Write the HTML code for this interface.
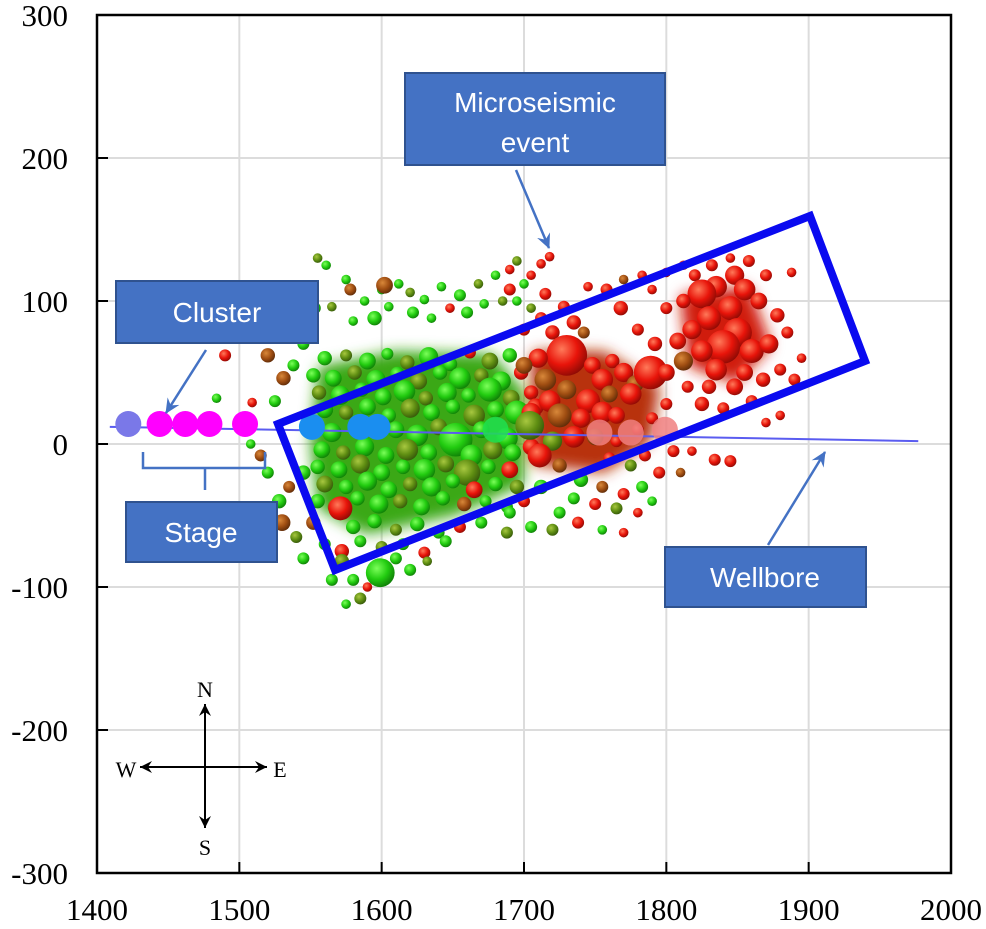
<!DOCTYPE html>
<html><head><meta charset="utf-8"><style>
html,body{margin:0;padding:0;background:#fff;}
svg{display:block;}
.tick{font-family:"Liberation Serif",serif;font-size:31px;fill:#000;}
.ann{font-family:"Liberation Sans","Noto Sans CJK SC",sans-serif;font-size:28px;fill:#fff;}
.cmp{font-family:"Liberation Serif",serif;font-size:22px;fill:#000;}
</style></head><body>
<svg id="chart" width="986" height="929" viewBox="0 0 986 929" xmlns="http://www.w3.org/2000/svg">
<defs>
<radialGradient id="g0" cx="0.38" cy="0.35" r="0.7"><stop offset="0" stop-color="#7cff5a"/><stop offset="0.55" stop-color="#22cc10"/><stop offset="1" stop-color="#0e7a06"/></radialGradient>
<radialGradient id="g1" cx="0.38" cy="0.35" r="0.7"><stop offset="0" stop-color="#a8c840"/><stop offset="0.55" stop-color="#5f8e12"/><stop offset="1" stop-color="#34560a"/></radialGradient>
<radialGradient id="g2" cx="0.38" cy="0.35" r="0.7"><stop offset="0" stop-color="#d8883a"/><stop offset="0.55" stop-color="#a04e12"/><stop offset="1" stop-color="#5c2a08"/></radialGradient>
<radialGradient id="g3" cx="0.38" cy="0.35" r="0.7"><stop offset="0" stop-color="#ff7a5a"/><stop offset="0.55" stop-color="#e8140a"/><stop offset="1" stop-color="#8a0a04"/></radialGradient>
<filter id="blur" x="-20%" y="-20%" width="140%" height="140%"><feGaussianBlur stdDeviation="7"/></filter>
</defs>
<g id="grid"></g>
<g id="blobs" filter="url(#blur)"></g>
<g id="events"></g>
<g id="well"></g>
<g id="axes"></g>
</svg>
<script>
const xTicks=[1400,1500,1600,1700,1800,1900,2000];
const yTicks=[300,200,100,0,-100,-200,-300];
// events: x (E), y (N), magnitude radius, type (0 green,1 olive,2 brown,3 red)
const evX=[1555,1561,1575,1578,1548,1553,1565,1540,1588,1600,1612,1620,1630,1642,1655,1668,1680,1690,1695,1700,1705,1712,1718,1690,1685,1672,1660,1648,1635,1622,1605,1595,1580,1602,
1490,1484,1509,1531,1525,1508,1515,1520,1545,1530,1520,1550,1538,
1560,1575,1590,1604,1618,1633,1648,1662,1676,1690,
1552,1566,1581,1596,1611,1626,1641,1655,1670,1684,1698,
1556,1571,1586,1601,1616,1631,1646,1661,1676,1691,1705,
1560,1575,1590,1605,1620,1635,1650,1665,1680,1695,1708,
1565,1610,1625,1640,1655,1670,1688,1700,
1558,1573,1588,1603,1618,1633,1652,1663,1678,1692,1705,
1555,1570,1585,1600,1615,1630,1645,1660,1675,1690,
1560,1575,1590,1605,1620,1635,1650,1665,1680,1695,
1555,1568,1583,1598,1613,1628,1643,1658,1673,1688,
1552,1571,1580,1595,1610,1625,1640,1655,1670,
1560,1572,1585,1600,1615,1630,1645,
1599,1572,1580,1565,1585,1575,1590,1620,1632,1610,1545,1540,1530,1528,1535,1545,
1700,1712,1720,1705,1695,1715,1728,1735,1742,1730,1710,1700,1715,1748,1755,1762,1770,1778,1789,1775,1760,1745,1730,1718,1705,1725,1740,1755,1765,1735,1720,1704,1750,1765,1780,1790,1800,1711,1725,1760,1775,1785,1795,1805,1740,1755,1770,1783,1765,1750,1735,1725,1780,1790,1810,1818,1712,1700,1690,
1720,1738,1755,1770,1705,1688,
1820,1832,1845,1858,1870,1888,1848,1835,1825,1812,1800,1790,1783,1855,1865,1878,1885,1845,1830,1818,1808,1850,1840,1860,1872,1825,1812,1800,1835,1855,1868,1880,1890,1848,1830,1815,1825,1840,1860,1880,1870,1792,1780,1768,1758,1770,1745,1800,1812,1895,1834,1845];
const evY=[130,125,115,108,105,95,96,90,100,108,112,106,101,110,104,112,118,122,128,112,118,126,131,108,100,98,92,95,88,92,96,88,86,111,
62,32,29,46,30,0,-8,-20,70,75,62,80,55,
60,62,58,63,57,61,56,64,58,62,
48,46,50,45,49,44,50,46,48,44,50,
36,34,38,33,37,32,36,34,38,32,36,
24,22,26,20,25,22,26,20,24,22,26,
8,10,6,12,6,10,4,12,
-4,-6,-2,-8,-4,-6,3,-8,-4,-6,-2,
-16,-18,-14,-20,-16,-18,-14,-20,-16,-18,
-28,-30,-26,-32,-28,-30,-26,-32,-28,-30,
-40,-44,-38,-42,-40,-44,-38,-42,-40,-44,
-55,-45,-58,-54,-60,-56,-62,-58,-55,
-70,-75,-68,-72,-70,-76,-68,
-90,-82,-95,-95,-108,-112,-100,-88,-82,-80,-80,-65,-55,-40,-30,-20,
80,88,78,95,100,105,96,85,78,62,60,55,45,55,45,58,50,42,50,35,35,30,38,30,22,20,18,22,20,5,2,13,5,2,10,18,28,-8,-15,-10,-15,-8,-20,-5,-25,-30,-35,-30,-45,-42,-38,-48,-48,-40,-20,-5,-30,-40,-48,
-60,-55,-60,-62,-58,-62,
118,125,130,128,118,120,118,110,105,100,95,108,118,108,100,90,78,95,88,80,72,78,68,65,70,65,58,50,52,50,45,52,45,40,40,40,28,25,30,20,15,70,80,95,108,115,110,120,125,60,-11,-12];
const evMag=[4,4,4,5,4,5,4,4,4,4,4,4,4,4,5,4,4,4,4,4,4,4,4,5,4,4,5,4,4,5,4,6,4,7,
5,4,4,6,5,4,5,5,5,6,6,5,5,
6,5,7,5,6,8,6,5,7,6,
6,7,6,8,6,7,6,9,6,8,6,
6,8,6,7,9,6,8,6,10,7,6,
7,6,7,6,8,7,6,9,7,10,7,
8,7,9,7,8,7,9,7,
7,6,8,7,9,7,14,9,8,7,7,
6,7,8,7,6,9,7,11,6,7,
7,6,8,7,6,8,6,7,6,6,
6,7,6,8,6,7,6,6,5,5,
6,10,6,6,5,6,5,5,5,
5,6,5,5,5,5,5,
12,6,5,5,5,4,4,5,4,5,5,5,7,6,5,6,
5,5,6,4,4,5,5,6,5,17,8,7,9,7,9,6,8,7,14,9,7,10,8,9,8,10,8,9,7,9,8,12,7,5,5,5,5,10,6,5,5,5,5,5,6,5,5,5,5,5,5,5,4,4,4,4,6,5,5,
5,5,4,4,5,5,
5,5,4,5,5,4,8,9,12,6,5,4,4,9,7,6,5,10,10,8,7,12,14,10,8,9,8,7,9,7,6,5,5,7,6,5,6,5,5,4,4,6,5,6,5,4,4,4,4,4,5,5];
const evType=[1,0,0,2,0,0,1,1,0,0,0,1,0,0,0,1,0,3,1,0,3,3,3,3,1,0,0,3,0,0,0,0,0,2,
3,0,3,2,0,0,2,0,0,0,2,1,0,
0,1,0,0,1,0,0,3,1,0,
0,0,1,0,0,1,0,0,1,0,3,
1,0,0,0,0,1,0,0,0,1,3,
0,1,0,0,1,0,0,1,0,0,3,
0,0,0,1,0,0,0,1,
0,1,0,0,1,0,0,0,1,0,3,
0,0,1,0,0,0,1,1,0,3,
1,0,0,0,1,0,0,3,0,1,
0,2,0,0,1,0,0,2,0,0,
2,3,0,0,1,0,0,3,0,
0,3,0,1,0,3,0,
0,1,0,0,1,0,3,0,1,0,0,1,2,0,2,0,
3,3,3,1,0,3,3,3,2,3,3,2,2,3,3,3,3,2,3,3,2,3,2,3,3,2,3,3,3,3,1,1,2,3,3,3,3,3,2,3,1,3,3,3,0,2,3,0,1,3,0,0,3,0,2,3,0,3,0,
1,3,0,3,0,1,
3,3,3,3,3,3,3,3,3,3,3,3,3,3,3,3,3,3,3,3,3,3,3,3,3,3,2,3,3,3,3,3,3,3,3,3,3,3,3,3,3,3,3,3,3,2,3,3,3,3,3,3];
const stageX=[1422,1444,1462,1479,1504,1551,1585,1597,1680,1753,1775,1799];
const stageY=[14,14,14,14,14,12,12,12,10,8,8,10];
const stageColor=["#7a78e8","#ff00ff","#ff00ff","#ff00ff","#ff00ff","#1a8ef0","#1a8ef0","#1a8ef0","#20e050","#f08080","#f08080","#f08080"];
const wellX=[1409,1977];
const wellY=[12,2];
const greenCloudX=[1560,1610,1675,1695,1695,1650,1590,1560,1555];
const greenCloudY=[50,60,58,35,-25,-45,-58,-42,0];
const redCloudX=[1710,1755,1790,1785,1755,1710];
const redCloudY=[60,60,38,5,-15,-10];
const red2CloudX=[1815,1855,1868,1848,1820];
const red2CloudY=[100,105,70,48,58];

const L=97,R=951,T=15,B=873;
const sx=v=>L+(v-1400)/600*(R-L);
const sy=v=>T+(300-v)/600*(B-T);
const NS="http://www.w3.org/2000/svg";
function mk(tag,attrs,parent,txt){const e=document.createElementNS(NS,tag);for(const k in attrs)e.setAttribute(k,attrs[k]);if(txt!==undefined)e.textContent=txt;parent.appendChild(e);return e;}
const grid=document.getElementById('grid');
xTicks.forEach(v=>{if(v>1400&&v<2000){const l=mk('line',{x1:sx(v),x2:sx(v),y1:T,y2:B,stroke:'#dcdcdc','stroke-width':2},grid);

}});
yTicks.forEach(v=>{if(v<300&&v>-300){const l=mk('line',{x1:L,x2:R,y1:sy(v),y2:sy(v),stroke:'#dcdcdc','stroke-width':2},grid);

}});
const blobs=document.getElementById('blobs');
function poly(xs,ys,fill,name){const p=mk('polygon',{points:xs.map((x,i)=>sx(x)+','+sy(ys[i])).join(' '),fill:fill,'stroke':fill,'stroke-width':14,'stroke-linejoin':'round'},blobs);

}
poly(greenCloudX,greenCloudY,'#3aa818','green-event-cloud');
poly(redCloudX,redCloudY,'#b8300c','red-event-cloud');
poly(red2CloudX,red2CloudY,'#d01a0a','northeast-event-cloud');
const ev=document.getElementById('events');
evX.forEach((x,i)=>{const c=mk('circle',{cx:sx(x),cy:sy(evY[i]),r:evMag[i]*1.2,fill:'url(#g'+evType[i]+')'},ev);

});
const well=document.getElementById('well');
const wl=mk('line',{x1:sx(wellX[0]),y1:sy(wellY[0]),x2:sx(wellX[1]),y2:sy(wellY[1]),stroke:'#5a5cf0','stroke-width':2},well);


stageX.forEach((x,i)=>{const c=mk('circle',{cx:sx(x),cy:sy(stageY[i]),r:13,fill:stageColor[i],opacity:i>=8?0.85:1},well);

});
const ax=document.getElementById('axes');
const frame=mk('rect',{x:L,y:T,width:R-L,height:B-T,fill:'none',stroke:'#000','stroke-width':2.5},ax);


xTicks.forEach(v=>{mk('line',{x1:sx(v),x2:sx(v),y1:B,y2:B-11,stroke:'#000','stroke-width':2},ax);
const t=mk('text',{x:sx(v),y:920,'text-anchor':'middle',class:'tick'},ax,String(v));

});
yTicks.forEach(v=>{mk('line',{x1:L,x2:L+11,y1:sy(v),y2:sy(v),stroke:'#000','stroke-width':2},ax);
const t=mk('text',{x:68,y:sy(v)+11,'text-anchor':'end',class:'tick'},ax,String(v));

});
</script>
<svg style="position:absolute;left:0;top:0" width="986" height="929">
<defs>
<marker id="ah2" markerWidth="16" markerHeight="16" refX="14" refY="8" orient="auto" markerUnits="userSpaceOnUse"><path d="M0,1 L15,8 L0,15 L5,8 Z" fill="#4472c4"/></marker>
<marker id="ak2" markerWidth="14" markerHeight="14" refX="12" refY="7" orient="auto" markerUnits="userSpaceOnUse"><path d="M0,1 L12,7 L0,13 L4,7 Z" fill="#000"/></marker>
</defs>
<polygon points="278,424 810,216 865,361 335,570" fill="none" stroke="#0a0af0" stroke-width="8" stroke-linejoin="miter"/>
<g>
<rect x="405" y="73" width="260" height="92" fill="#4472c4" stroke="#2f528f" stroke-width="2"/>
<text class="ann" x="535" y="112" text-anchor="middle">Microseismic</text>
<text class="ann" x="535" y="152" text-anchor="middle">event</text>
<line x1="516" y1="170" x2="549" y2="248" stroke="#4472c4" stroke-width="2.5" marker-end="url(#ah2)"/>
</g>
<g>
<rect x="116" y="281" width="202" height="62" fill="#4472c4" stroke="#2f528f" stroke-width="2"/>
<text class="ann" x="217" y="322" text-anchor="middle">Cluster</text>
<line x1="206" y1="350" x2="166" y2="413" stroke="#4472c4" stroke-width="2.5" marker-end="url(#ah2)"/>
</g>
<g>
<path d="M143,452 V468 H205 V490 M205,468 H265 V452" fill="none" stroke="#4472c4" stroke-width="2.5"/>
<rect x="126" y="502" width="151" height="60" fill="#4472c4" stroke="#2f528f" stroke-width="2"/>
<text class="ann" x="201" y="542" text-anchor="middle">Stage</text>
</g>
<g>
<rect x="665" y="547" width="201" height="60" fill="#4472c4" stroke="#2f528f" stroke-width="2"/>
<text class="ann" x="765" y="587" text-anchor="middle">Wellbore</text>
<line x1="768" y1="545" x2="825" y2="452" stroke="#4472c4" stroke-width="2.5" marker-end="url(#ah2)"/>
</g>
<g>
<line x1="205" y1="828" x2="205" y2="704" stroke="#000" stroke-width="2" marker-end="url(#ak2)"/>
<line x1="205" y1="706" x2="205" y2="828" stroke="#000" stroke-width="2" marker-end="url(#ak2)"/>
<line x1="265" y1="767" x2="140" y2="767" stroke="#000" stroke-width="2" marker-end="url(#ak2)"/>
<line x1="142" y1="767" x2="267" y2="767" stroke="#000" stroke-width="2" marker-end="url(#ak2)"/>
<text class="cmp" x="205" y="697" text-anchor="middle">N</text>
<text class="cmp" x="205" y="855" text-anchor="middle">S</text>
<text class="cmp" x="126" y="777" text-anchor="middle">W</text>
<text class="cmp" x="280" y="777" text-anchor="middle">E</text>
</g>
</svg>
</body></html>
